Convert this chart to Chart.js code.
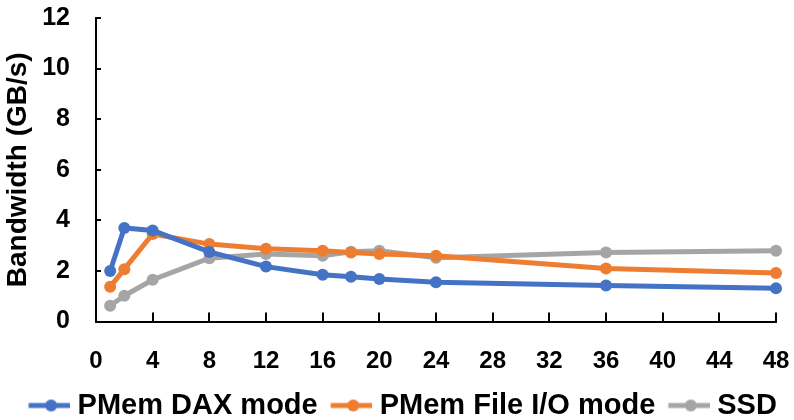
<!DOCTYPE html>
<html>
<head>
<meta charset="utf-8">
<script src="https://cdn.jsdelivr.net/npm/chart.js@4.4.1/dist/chart.umd.min.js"></script>
<style>
  html, body { margin: 0; padding: 0; background: #fff; overflow: hidden; }
  #frame { width: 794px; height: 420px; overflow: hidden; }
  #wrap { width: 794px; height: 430px; }
</style>
</head>
<body>
<div id="frame"><div id="wrap"><canvas id="bwChart"></canvas></div></div>
<script>
  // Data
  const threads = [1, 2, 4, 8, 12, 16, 18, 20, 24, 36, 48];
  const daxMode = [2.0, 3.7, 3.6, 2.75, 2.17, 1.85, 1.77, 1.68, 1.55, 1.42, 1.31];
  const fileIoMode = [1.37, 2.07, 3.46, 3.06, 2.88, 2.8, 2.73, 2.67, 2.6, 2.1, 1.92];
  const ssd = [0.62, 1.02, 1.65, 2.5, 2.67, 2.6, 2.76, 2.8, 2.52, 2.73, 2.8];
  const seriesNames = ["PMem DAX mode", "PMem File I/O mode", "SSD"];
  const colors = ["#4472C4", "#ED7D31", "#A5A5A5"];

  const font = "'Liberation Sans', Arial, sans-serif";

  function pts(values) {
    return values.map((v, i) => ({ x: threads[i], y: v }));
  }

  // legend marker: short line with a dot (offset inside a wider canvas)
  function legendMarker(color) {
    const c = document.createElement("canvas");
    c.width = 60;
    c.height = 14;
    const g = c.getContext("2d");
    const a = 18.5;
    g.strokeStyle = color;
    g.lineWidth = 5;
    g.beginPath();
    g.moveTo(a, 7);
    g.lineTo(a + 45, 7);
    g.stroke();
    g.fillStyle = color;
    g.beginPath();
    g.arc(a + 22.5, 7, 6, 0, Math.PI * 2);
    g.fill();
    return c;
  }
  const markers = colors.map(legendMarker);

  // tick marks drawn inside the plot area
  const insideTicks = {
    id: "insideTicks",
    afterDraw(chart) {
      const ctx = chart.ctx;
      const x = chart.scales.x;
      const y = chart.scales.y;
      ctx.save();
      ctx.strokeStyle = "#000";
      ctx.lineWidth = 2;
      x.ticks.forEach((t, i) => {
        const px = Math.round(x.getPixelForTick(i));
        ctx.beginPath();
        ctx.moveTo(px, x.top);
        ctx.lineTo(px, x.top - 9);
        ctx.stroke();
      });
      y.ticks.forEach((t, i) => {
        const py = Math.round(y.getPixelForTick(i));
        ctx.beginPath();
        ctx.moveTo(y.right, py);
        ctx.lineTo(y.right + 5, py);
        ctx.stroke();
      });
      ctx.restore();
    },
  };

  const datasets = [daxMode, fileIoMode, ssd].map((values, i) => ({
    label: seriesNames[i],
    data: pts(values),
    borderColor: colors[i],
    backgroundColor: colors[i],
    borderWidth: 5,
    pointRadius: 6,
    pointHoverRadius: 6,
    pointBorderWidth: 0,
    tension: 0,
    clip: false,
  }));

  new Chart(document.getElementById("bwChart"), {
    type: "line",
    data: { datasets },
    plugins: [insideTicks],
    options: {
      responsive: true,
      maintainAspectRatio: false,
      animation: false,
      layout: { padding: 0 },
      plugins: {
        tooltip: { enabled: false },
        legend: {
          position: "bottom",
          labels: {
            usePointStyle: true,
            pointStyleWidth: 46,
            padding: 1.5,
            color: "#000",
            font: { family: font, size: 29, weight: "bold" },
            generateLabels(chart) {
              const items = Chart.defaults.plugins.legend.labels.generateLabels(chart);
              items.forEach((it, i) => { it.pointStyle = markers[i]; });
              return items;
            },
          },
        },
      },
      scales: {
        x: {
          type: "linear",
          min: 0,
          max: 48,
          grid: { display: false, drawTicks: false },
          border: { color: "#000", width: 2 },
          ticks: {
            stepSize: 4,
            padding: 25,
            color: "#000",
            font: { family: font, size: 24, weight: "bold" },
          },
          afterFit(s) {
            s.height = 68;
            s.paddingLeft = 0;
            s.paddingRight = 18;
          },
        },
        y: {
          min: 0,
          max: 12,
          grid: { display: false, drawTicks: false },
          border: { color: "#000", width: 2 },
          ticks: {
            stepSize: 2,
            padding: 26,
            color: "#000",
            font: { family: font, size: 25, weight: "bold" },
          },
          title: {
            display: true,
            text: "Bandwidth (GB/s)",
            color: "#000",
            padding: { top: 1, bottom: 0 },
            font: { family: font, size: 28, weight: "bold" },
          },
          afterFit(s) {
            s.width = 96;
            s.paddingTop = 18;
            s.paddingBottom = 0;
          },
        },
      },
    },
  });
</script>
</body>
</html>
